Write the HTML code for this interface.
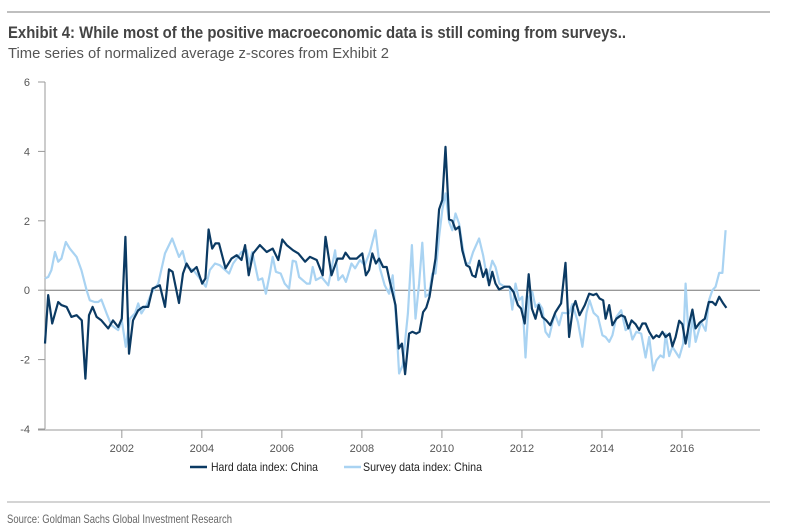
<!DOCTYPE html>
<html><head><meta charset="utf-8"><style>
html,body{margin:0;padding:0;background:#fff;}
svg{display:block;font-family:"Liberation Sans",sans-serif;}
</style></head><body>
<svg id="chart" width="796" height="527">
<line x1="7" y1="12" x2="770" y2="12" stroke="#aaa" stroke-width="1.5"/>
<text x="8" y="38" font-size="17" font-weight="bold" fill="#444" textLength="618" lengthAdjust="spacingAndGlyphs">Exhibit 4: While most of the positive macroeconomic data is still coming from surveys..</text>
<text x="8" y="58" font-size="15" fill="#555" textLength="381" lengthAdjust="spacingAndGlyphs">Time series of normalized average z-scores from Exhibit 2</text>
<g id="axes"></g>
<g id="series"></g>
<g>
<g><line x1="190" y1="467" x2="207" y2="467" stroke="#0b3a63" stroke-width="2.5"/><text x="211" y="471" font-size="12" fill="#222" textLength="107" lengthAdjust="spacingAndGlyphs">Hard data index: China</text></g>
<g><line x1="344" y1="467" x2="361" y2="467" stroke="#a9d3f2" stroke-width="2.5"/><text x="363" y="471" font-size="12" fill="#222" textLength="119" lengthAdjust="spacingAndGlyphs">Survey data index: China</text></g>
</g>
<line x1="7" y1="502" x2="770" y2="502" stroke="#aaa" stroke-width="1"/>
<text x="7" y="523" font-size="12" fill="#666" textLength="225" lengthAdjust="spacingAndGlyphs">Source: Goldman Sachs Global Investment Research</text>
</svg>
<script>
const yTicks=[6,4,2,0,-2,-4];
const xTicks=[2002,2004,2006,2008,2010,2012,2014,2016];
const hardYears=[2000.08,2000.16,2000.26,2000.41,2000.49,2000.62,2000.74,2000.87,2001.0,2001.09,2001.18,2001.27,2001.37,2001.49,2001.66,2001.78,2001.91,2002.0,2002.09,2002.18,2002.28,2002.41,2002.53,2002.66,2002.77,2002.95,2003.08,2003.18,2003.27,2003.43,2003.53,2003.62,2003.74,2003.87,2004.01,2004.09,2004.17,2004.26,2004.34,2004.43,2004.59,2004.74,2004.87,2004.99,2005.08,2005.17,2005.28,2005.45,2005.62,2005.77,2005.91,2006.01,2006.12,2006.28,2006.41,2006.58,2006.7,2006.87,2007.02,2007.09,2007.24,2007.39,2007.52,2007.59,2007.7,2007.87,2008.01,2008.1,2008.18,2008.26,2008.35,2008.43,2008.53,2008.62,2008.7,2008.84,2008.92,2009.0,2009.08,2009.18,2009.26,2009.36,2009.44,2009.53,2009.61,2009.69,2009.78,2009.84,2009.93,2010.01,2010.09,2010.18,2010.26,2010.34,2010.43,2010.51,2010.61,2010.69,2010.76,2010.84,2010.93,2011.03,2011.11,2011.18,2011.26,2011.34,2011.43,2011.57,2011.69,2011.79,2011.9,2011.98,2012.07,2012.17,2012.25,2012.34,2012.42,2012.51,2012.61,2012.71,2012.84,2012.98,2013.09,2013.18,2013.28,2013.34,2013.44,2013.57,2013.68,2013.78,2013.86,2013.94,2014.03,2014.09,2014.18,2014.26,2014.36,2014.48,2014.57,2014.66,2014.74,2014.84,2014.93,2015.01,2015.09,2015.18,2015.28,2015.36,2015.43,2015.51,2015.59,2015.69,2015.76,2015.84,2015.93,2016.01,2016.09,2016.18,2016.26,2016.34,2016.44,2016.57,2016.67,2016.76,2016.84,2016.93,2017.03,2017.11];
const hardValues=[-1.54,-0.14,-0.96,-0.34,-0.43,-0.48,-0.77,-0.72,-0.87,-2.55,-0.72,-0.48,-0.77,-0.87,-1.1,-0.87,-1.06,-0.82,1.54,-1.83,-0.87,-0.58,-0.48,-0.48,0.05,0.14,-0.48,0.6,0.53,-0.37,0.48,0.77,0.53,0.67,0.19,0.34,1.75,1.2,1.35,1.35,0.63,0.91,1.01,0.87,1.3,0.43,1.06,1.3,1.1,1.2,0.87,1.46,1.3,1.15,1.06,0.82,0.96,0.87,0.43,1.54,0.43,0.91,0.91,1.08,0.91,0.91,1.06,0.43,0.58,1.06,0.77,0.91,0.67,0.67,0.24,-0.43,-1.68,-1.54,-2.42,-1.25,-1.2,-1.25,-1.2,-0.63,-0.5,-0.19,0.48,0.91,2.33,2.6,4.13,2.04,2.0,1.75,1.83,1.15,0.72,0.67,0.43,0.38,0.85,0.38,0.6,0.14,0.53,0.19,0.02,0.1,0.1,-0.05,-0.43,-0.53,-0.96,0.46,-0.53,-0.82,-0.43,-0.77,-0.87,-1.01,-0.63,-0.38,0.79,-1.35,-0.48,-0.31,-0.72,-0.43,-0.1,-0.14,-0.1,-0.24,-0.29,-0.82,-0.43,-1.01,-0.82,-0.72,-0.77,-1.1,-0.87,-0.98,-1.15,-0.96,-0.96,-1.2,-1.39,-1.3,-1.35,-1.2,-1.35,-1.25,-1.62,-1.35,-0.88,-0.98,-1.54,-0.96,-0.56,-1.1,-0.94,-0.82,-0.34,-0.34,-0.43,-0.19,-0.38,-0.51];
const surveyYears=[2000.08,2000.16,2000.24,2000.33,2000.41,2000.49,2000.6,2000.7,2000.87,2000.99,2001.12,2001.2,2001.32,2001.41,2001.49,2001.62,2001.74,2001.91,2002.0,2002.1,2002.2,2002.33,2002.41,2002.49,2002.62,2002.74,2002.91,2003.08,2003.26,2003.43,2003.52,2003.62,2003.79,2003.95,2004.1,2004.2,2004.33,2004.45,2004.68,2004.78,2004.99,2005.12,2005.18,2005.26,2005.41,2005.51,2005.6,2005.7,2005.77,2005.85,2005.97,2006.07,2006.18,2006.27,2006.35,2006.43,2006.62,2006.7,2006.77,2006.85,2006.99,2007.16,2007.33,2007.41,2007.52,2007.6,2007.74,2007.83,2007.95,2008.07,2008.2,2008.34,2008.45,2008.57,2008.68,2008.77,2008.85,2008.93,2009.02,2009.15,2009.25,2009.34,2009.43,2009.51,2009.59,2009.68,2009.76,2009.84,2009.93,2010.01,2010.09,2010.18,2010.26,2010.34,2010.43,2010.51,2010.59,2010.69,2010.78,2010.93,2011.03,2011.14,2011.26,2011.34,2011.44,2011.57,2011.69,2011.76,2011.84,2011.93,2012.01,2012.09,2012.18,2012.26,2012.34,2012.43,2012.51,2012.59,2012.68,2012.82,2012.93,2013.01,2013.18,2013.26,2013.4,2013.51,2013.61,2013.69,2013.79,2013.9,2014.01,2014.09,2014.18,2014.26,2014.36,2014.48,2014.59,2014.69,2014.76,2014.86,2014.98,2015.09,2015.18,2015.28,2015.36,2015.46,2015.54,2015.59,2015.68,2015.76,2015.93,2016.03,2016.09,2016.18,2016.26,2016.34,2016.48,2016.59,2016.68,2016.76,2016.84,2016.93,2017.01,2017.09];
const surveyValues=[0.34,0.38,0.58,1.1,0.82,0.91,1.39,1.2,0.96,0.58,0,-0.29,-0.34,-0.34,-0.27,-0.67,-1.01,-1.15,-0.87,-1.63,-0.82,-0.67,-0.38,-0.67,-0.43,-0.08,0.19,1.06,1.49,0.96,1.13,0.67,0.58,0.34,0.1,0.58,0.77,0.72,0.48,0.77,1.1,1.15,0.77,1.1,0.29,0.34,-0.1,0.48,0.96,0.53,0.48,0.19,0.05,0.85,0.82,0.38,0.19,0.19,0.67,0.29,0.38,0.14,1.15,0.29,0.43,0.24,0.77,0.63,0.87,0.72,1.1,1.73,0.63,0.14,-0.1,0.43,-0.77,-2.4,-2.16,-0.67,1.3,-0.82,0.19,1.37,-0.19,-0.1,0.48,0.48,1.54,2.31,2.79,1.97,1.73,2.21,1.92,1.3,0.77,0.77,1.1,1.49,1.01,0.29,0.85,0.67,0.19,0.1,0.1,-0.56,0.19,-0.29,-0.19,-1.94,-0.19,-0.05,-0.48,-0.38,-0.53,-1.2,-1.35,-0.67,-1.01,-0.65,-0.67,-0.4,-0.91,-1.63,-0.67,-0.29,-0.65,-0.77,-1.3,-1.35,-1.49,-1.3,-0.77,-0.58,-1.15,-1.06,-1.42,-1.2,-1.25,-1.94,-1.35,-2.31,-2.02,-1.88,-1.94,-1.25,-1.9,-1.63,-1.94,-1.54,0.19,-1.63,-0.77,-1.49,-0.91,-1.17,-0.27,0,0.1,0.5,0.5,1.73];

const X0=45,X1=760,Y0=82,Y1=429;
const xMin=2000.08,xMax=2017.95,yMin=-4,yMax=6;
function xs(v){return X0+(v-xMin)/(xMax-xMin)*(X1-X0);}
function ys(v){return Y1-(v-yMin)/(yMax-yMin)*(Y1-Y0);}
const NS='http://www.w3.org/2000/svg';
function mk(tag,attrs,parent){const e=document.createElementNS(NS,tag);for(const k in attrs)e.setAttribute(k,attrs[k]);parent.appendChild(e);return e;}
const axes=document.getElementById('axes');
const yAxis=mk('line',{x1:X0,y1:Y0,x2:X0,y2:Y1,stroke:'#999','stroke-width':1},axes);


const xAxis=mk('line',{x1:38,y1:Y1+1,x2:X1,y2:Y1+1,stroke:'#999','stroke-width':1},axes);


yTicks.forEach(t=>{
  const y=ys(t);
  mk('line',{x1:38,y1:y,x2:X0,y2:y,stroke:'#999'},axes);
  const lb=mk('text',{x:30,y:y+4,'font-size':11,'text-anchor':'end',fill:'#555'},axes);
  lb.textContent=t;
  
  
});
const zl=mk('line',{x1:X0,y1:ys(0),x2:X1,y2:ys(0),stroke:'#777','stroke-width':1},axes);


xTicks.forEach(t=>{
  const x=xs(t);
  mk('line',{x1:x,y1:Y1+1,x2:x,y2:Y1+9,stroke:'#999'},axes);
  const lb=mk('text',{x:x,y:Y1+23,'font-size':11,'text-anchor':'middle',fill:'#555'},axes);
  lb.textContent=t;
  
  
});
const ser=document.getElementById('series');
function line(years,vals,color,name){
  const d=years.map((y,i)=>(i?'L':'M')+xs(y).toFixed(1)+','+ys(vals[i]).toFixed(1)).join('');
  const p=mk('path',{d:d,fill:'none',stroke:color,'stroke-width':2.2,'stroke-linejoin':'round'},ser);
  
  
}
line(surveyYears,surveyValues,'#a9d3f2','survey-data-line');
line(hardYears,hardValues,'#0b3a63','hard-data-line');
</script>
</body></html>
